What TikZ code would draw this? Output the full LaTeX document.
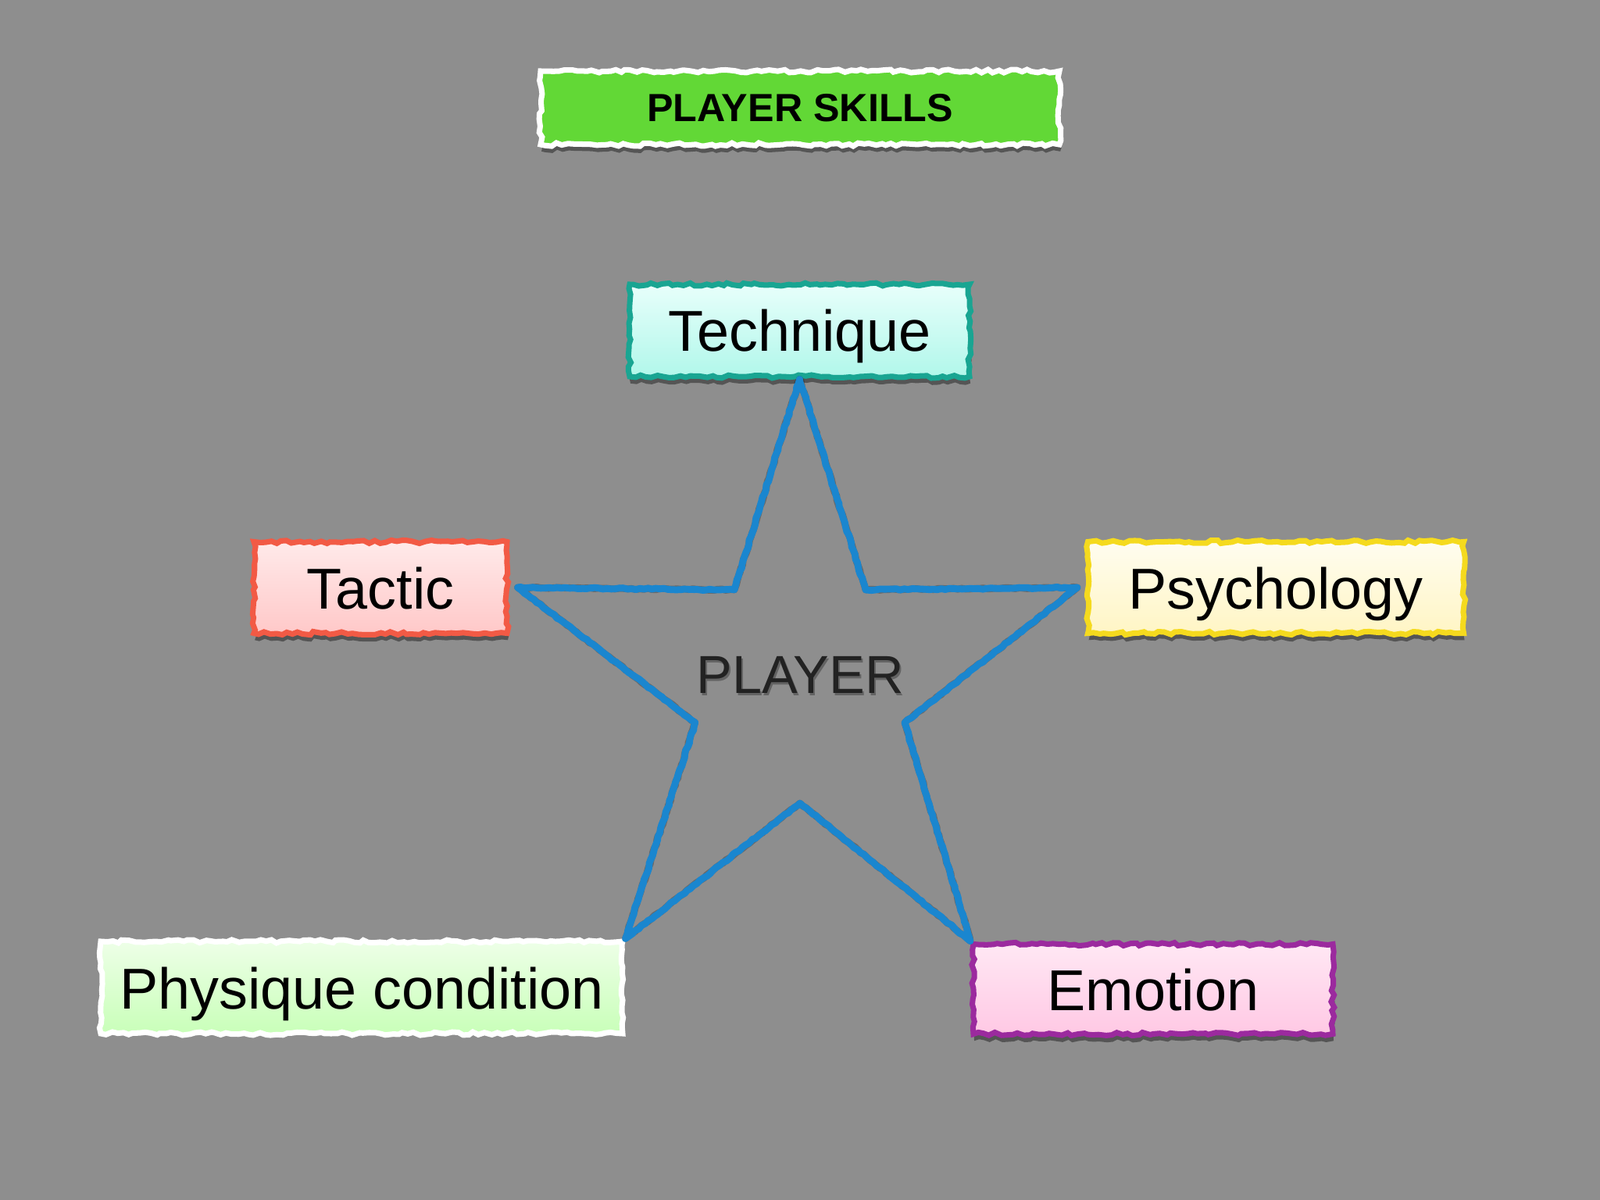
\documentclass[tikz,border=0pt]{standalone}
\usepackage{fontspec}
\setmainfont{Liberation Sans}
\usetikzlibrary{shadows,decorations.pathmorphing}

\definecolor{bggray}{RGB}{142,142,142}
\definecolor{titlegreen}{RGB}{98,216,54}
\definecolor{starblue}{RGB}{26,134,207}
\definecolor{tealline}{RGB}{25,165,146}
\definecolor{redline}{RGB}{242,90,69}
\definecolor{yellowline}{RGB}{245,218,30}
\definecolor{purpleline}{RGB}{155,42,158}

\tikzset{
  chalk/.style={rectangle, draw, line width=2pt, inner sep=0pt,
    decorate, decoration={random steps, segment length=2pt, amplitude=0.6pt}},
  skill/.style={chalk, font=\fontsize{21}{25}\selectfont, text height=0.54cm, text depth=0pt,
    drop shadow={shadow xshift=0.3pt, shadow yshift=-2.5pt, opacity=0.4, fill=black}},
  starline/.style={line width=2.5pt, line join=round,
    decorate, decoration={random steps, segment length=1.5pt, amplitude=0.25pt}},
}

\begin{document}
\begin{tikzpicture}
  \fill[bggray] (0,0) rectangle (20.48,-15.36);
  % title
  \node[chalk, draw=white, fill=titlegreen, minimum width=6.64cm, minimum height=0.94cm,
    font=\fontsize{14.3}{17}\selectfont\bfseries,
    drop shadow={shadow xshift=0.3pt, shadow yshift=-2.5pt, opacity=0.4, fill=black}]
    (title) at (10.24,-1.38) {PLAYER SKILLS};
  % the five skills
  \node[skill, draw=tealline, top color={rgb,255:red,232;green,255;blue,251}, bottom color={rgb,255:red,176;green,247;blue,234},
    minimum width=4.35cm, minimum height=1.18cm] (technique) at (10.235,-4.23) {Technique};
  \node[skill, draw=redline, top color={rgb,255:red,255;green,234;blue,234}, bottom color={rgb,255:red,255;green,200;blue,200},
    minimum width=3.24cm, minimum height=1.17cm] (tactic) at (4.87,-7.52) {Tactic};
  \node[skill, draw=yellowline, top color={rgb,255:red,255;green,253;blue,240}, bottom color={rgb,255:red,255;green,245;blue,196},
    minimum width=4.81cm, minimum height=1.17cm] (psychology) at (16.33,-7.52) {Psychology};
  \node[chalk, draw=white, font=\fontsize{21}{25}\selectfont, text height=0.54cm, text depth=0pt,
    top color={rgb,255:red,238;green,255;blue,232}, bottom color={rgb,255:red,200;green,255;blue,184},
    minimum width=6.68cm, minimum height=1.18cm] (physique) at (4.63,-12.64) {Physique condition};
  \node[skill, draw=purpleline, top color={rgb,255:red,255;green,232;blue,244}, bottom color={rgb,255:red,255;green,200;blue,228},
    minimum width=4.60cm, minimum height=1.15cm] (emotion) at (14.76,-12.66) {Emotion};
  % star
  \coordinate (s1) at (9.40,-7.55);
  \coordinate (s2) at (8.90,-9.25);
  \coordinate (s3) at (10.24,-10.28);
  \coordinate (s4) at (11.58,-9.25);
  \coordinate (s5) at (11.08,-7.55);
  \draw[starline, black, opacity=0.25, shift={(0.02,-0.03)}]
    (technique.south) -- (s1) -- ([xshift=1mm]tactic.east) -- (s2) -- (physique.north east) -- (s3)
    -- (emotion.north west) -- (s4) -- ([xshift=-1mm]psychology.west) -- (s5) -- cycle;
  \draw[starline, starblue]
    (technique.south) -- (s1) -- ([xshift=1mm]tactic.east) -- (s2) -- (physique.north east) -- (s3)
    -- (emotion.north west) -- (s4) -- ([xshift=-1mm]psychology.west) -- (s5) -- cycle;
  \node[font=\fontsize{19.5}{23}\selectfont, text=black, opacity=0.3] (playershadow) at (10.26,-8.67) {PLAYER};
  \node[font=\fontsize{19.5}{23}\selectfont, text={rgb,255:red,34;green,34;blue,34}] (player) at (10.24,-8.64) {PLAYER};
\end{tikzpicture}
\end{document}
